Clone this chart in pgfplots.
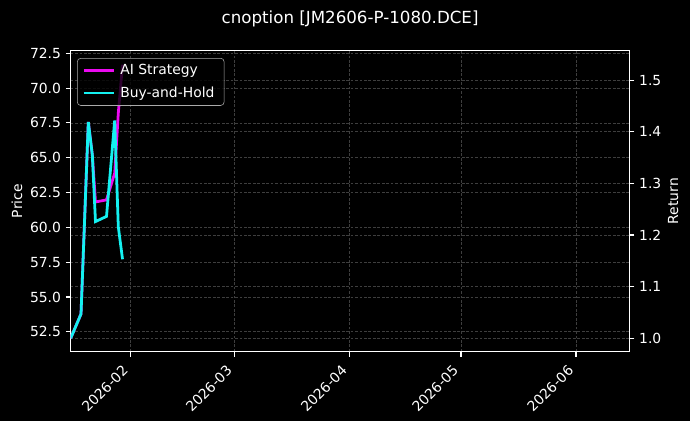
\documentclass[border=0pt]{standalone}
\usepackage{fontspec}
\setmainfont{DejaVu Sans}
\usepackage{pgfplots}
\pgfplotsset{compat=1.18}

\definecolor{aimag}{RGB}{235,10,240}
\definecolor{bhcyan}{RGB}{20,240,240}
\definecolor{gridgray}{RGB}{62,62,62}
\definecolor{legframe}{RGB}{170,170,170}

% x in days from 2026-01-01 (0 = Jan 1)
\pgfplotsset{
  darkax/.style={
    at={(0,0)}, anchor=south west,
    scale only axis, width=402.3bp, height=216.7bp,
    xmin=14.82, xmax=165.4,
    tick align=outside,
    major tick length=3.5bp,
    every tick/.style={white, line width=0.8bp},
    axis line style={white, line width=0.8bp},
    tick label style={white, font=\fontsize{10bp}{12bp}\selectfont},
    label style={white, font=\fontsize{10bp}{12bp}\selectfont},
    /pgf/number format/assume math mode=true,
    yticklabel style={/pgf/number format/.cd, fixed, fixed zerofill, precision=1},
    grid style={dash pattern=on 2bp off 1.2bp, color=gridgray, line width=0.4bp},
    ymajorgrids=true,
  },
}

\begin{document}
\begin{tikzpicture}
\path[use as bounding box, fill=black] (-50.9bp,-49.9bp) rectangle (445.9bp,253.2bp);

% left axis: price
\begin{axis}[
  darkax,
  ymin=51.07, ymax=72.69,
  xtick={31,59,90,120,151},
  xticklabels={2026-02,2026-03,2026-04,2026-05,2026-06},
  xtick pos=left, ytick pos=left,
  xmajorgrids=true,
  xticklabel style={xshift=-6.5bp, yshift=-4bp, rotate=45, anchor=north east, inner sep=1bp},
  ytick={52.5,55,57.5,60,62.5,65,67.5,70,72.5},
  ylabel={Price},
  ylabel style={at={(rel axis cs:-0.0961,0.5)}, anchor=center},
]
\end{axis}

% right axis: return
\begin{axis}[
  darkax,
  ymin=0.974, ymax=1.557,
  hide x axis,
  axis y line*=right,
  ytick={1.0,1.1,1.2,1.3,1.4,1.5},
  ylabel={Return},
  ylabel style={at={(rel axis cs:1.078,0.5)}, anchor=center},
  legend cell align=left,
  legend image code/.code={\draw[#1, line width=2bp] (0bp,0bp) -- (22bp,0bp);},
  legend style={
    at={(rel axis cs:0.0113,0.9757)}, anchor=north west,
    fill=black, fill opacity=0.8, text opacity=1,
    draw=legframe, rounded corners=2.5bp,
    text=white, font=\fontsize{10bp}{12bp}\selectfont,
    inner xsep=3.5bp, inner ysep=2.5bp, row sep=3bp,
    nodes={inner xsep=3.5bp},
  },
]
\addplot[aimag, line width=2bp] coordinates {
  (14.82,1.000) (17.60,1.047) (19.57,1.419) (20.65,1.355) (21.50,1.264)
  (24.47,1.268) (26.68,1.320) (27.65,1.436) (28.79,1.530)
};
\addplot[bhcyan, line width=2bp] coordinates {
  (14.82,1.000) (17.60,1.047) (19.57,1.419) (20.65,1.355) (21.50,1.226)
  (24.47,1.236) (26.68,1.422) (27.65,1.216) (28.79,1.153)
};
\legend{AI Strategy, Buy-and-Hold}
\end{axis}

\node[white, font=\fontsize{12bp}{14bp}\selectfont] at (201.15bp,239.4bp) {cnoption [JM2606-P-1080.DCE]};
\end{tikzpicture}
\end{document}
